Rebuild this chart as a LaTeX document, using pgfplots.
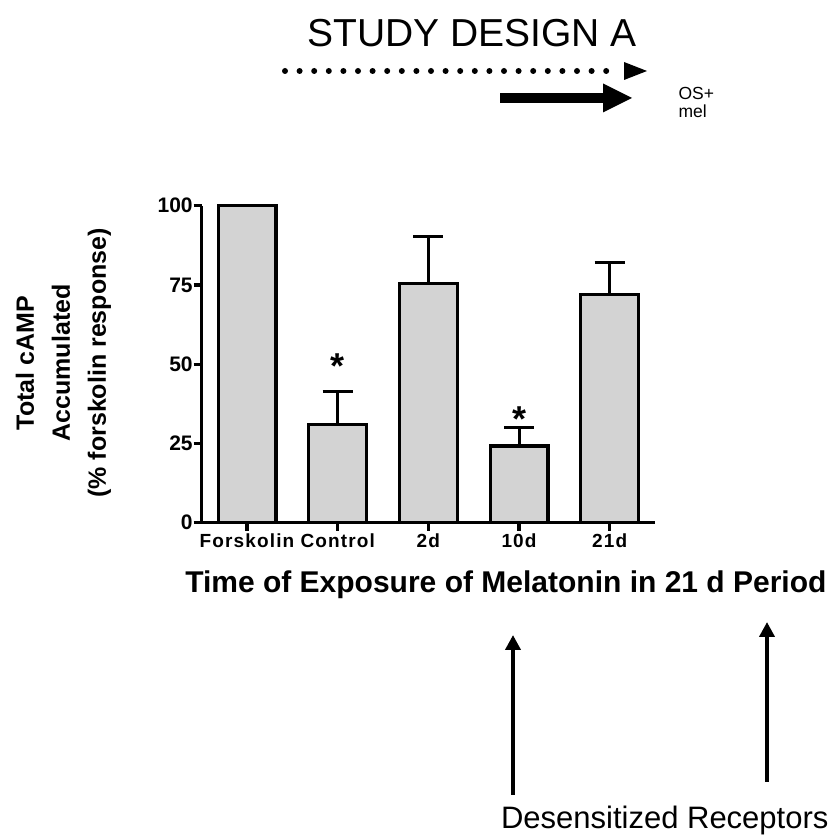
\documentclass[border=0pt]{standalone}
\usepackage{fontspec}
\setmainfont{Liberation Sans}
\usepackage{pgfplots}
\pgfplotsset{compat=1.18}
\usetikzlibrary{arrows.meta}
\definecolor{barfill}{RGB}{211,211,211}
\newfontfamily\spacedbf{Liberation Sans Bold}[LetterSpace=6]

\begin{document}
\begin{tikzpicture}
\useasboundingbox (0,0) rectangle (832pt,840pt);

% study design header
\node[font=\fontsize{39}{39}\selectfont] at (472pt,807pt) {STUDY DESIGN A};
\draw[line width=6pt, line cap=round, dash pattern=on 0pt off 14.6pt] (285pt,769pt) -- (618pt,769pt);
\fill (624pt,778pt) -- (647pt,769pt) -- (624pt,760pt) -- cycle;
\fill (500pt,736.7pt) rectangle (604pt,747.3pt);
\fill (603pt,756.5pt) -- (632pt,742pt) -- (603pt,727.5pt) -- cycle;
\node[font=\fontsize{17.5}{17.5}\selectfont, anchor=base west] at (675pt,740pt) {OS+};
\node[font=\fontsize{17.5}{17.5}\selectfont, anchor=base west] at (675pt,722pt) {mel};

\begin{axis}[
  at={(201.7pt,317.3pt)}, anchor=south west,
  scale only axis, width=453.3pt, height=317pt,
  xmin=-0.5, xmax=4.5, ymin=0, ymax=100,
  axis lines=left,
  axis line style={line width=3.3pt, -},
  xtick={0,1,2,3,4},
  xticklabels={Forskolin,Control,2d,10d,21d},
  ytick={0,25,50,75,100},
  tick align=outside,
  major tick length=8pt,
  tick style={line width=3.3pt, black},
  /pgf/number format/assume math mode=true,
  yticklabel style={font=\fontsize{21}{24}\selectfont\bfseries, xshift=2.5pt},
  xticklabel style={font=\fontsize{19}{22}\selectfont\spacedbf},
  ylabel={Total cAMP\\Accumulated\\(\% forskolin response)},
  ylabel style={at={(axis description cs:-0.305,0.504)}, anchor=center,
    align=center, font=\fontsize{25}{36}\selectfont\bfseries},
  xlabel={Time of Exposure of Melatonin in 21 d Period},
  xlabel style={at={(axis description cs:0.671,-0.196)}, anchor=center,
    font=\fontsize{30}{32}\selectfont\bfseries},
  clip=false,
]
% bar heights (% of forskolin response)
\addplot[ybar, bar width=57.7pt, bar shift=0pt, fill=barfill, draw=black, line width=3.3pt]
  coordinates {(0,100) (1,31) (2,75.5) (3,24.2) (4,72)};
% upper error bars
\addplot[draw=none, mark=none,
  error bars/.cd, y dir=plus, y explicit,
  error bar style={draw=black, line width=3pt},
  error mark options={rotate=90, mark size=15pt, line width=3pt, draw=black}]
  coordinates {(1,31) +- (0,10.3) (2,75.5) +- (0,14.7) (3,24.2) +- (0,5.7) (4,72) +- (0,10.1)};
% significance markers
\node[font=\fontsize{36}{36}\selectfont\bfseries, yshift=-6pt] at (axis cs:1,51.3) {*};
\node[font=\fontsize{36}{36}\selectfont\bfseries, yshift=-6pt] at (axis cs:3,34.6) {*};
\end{axis}

% desensitized receptors
\draw[line width=4.5pt, -{Triangle[width=15pt,length=15pt]}] (513pt,45pt) -- (513pt,205pt);
\draw[line width=4.5pt, -{Triangle[width=15pt,length=15pt]}] (767pt,58pt) -- (767pt,218pt);
\node[font=\fontsize{31}{31}\selectfont, anchor=base east] at (832pt,11pt) {Desensitized Receptors};
\end{tikzpicture}
\end{document}
